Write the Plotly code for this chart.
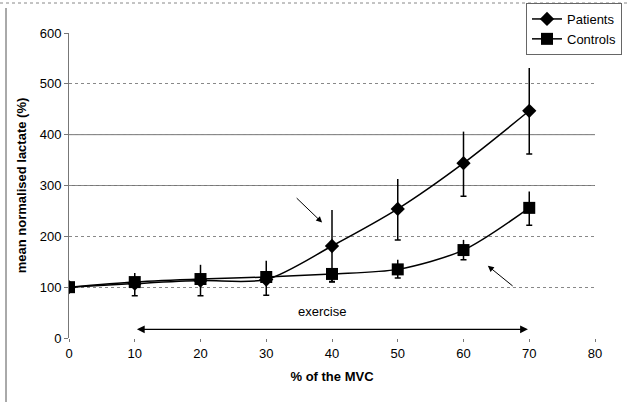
import plotly.graph_objects as go

# ---- data ----
mvc = [0, 10, 20, 30, 40, 50, 60, 70]
patients = [100, 107, 113, 115, 181, 254, 344, 447]
patients_up = [0, 0, 0, 0, 71, 59, 62, 84]
patients_down = [0, 0, 0, 0, 71, 61, 65, 85]
controls = [100, 110, 116, 120, 126, 135, 173, 256]
controls_up = [0, 18, 28, 32, 0, 19, 20, 32]
controls_down = [0, 27, 33, 36, 15, 17, 19, 34]
x_ticks = [0, 10, 20, 30, 40, 50, 60, 70, 80]
y_ticks = [0, 100, 200, 300, 400, 500, 600]
solid_grid = [300, 400]

FONT = "Liberation Sans, Arial, sans-serif"
fig = go.Figure()

# error bars: upper without cap, lower with cap
for vals, up, down in [(patients, patients_up, patients_down), (controls, controls_up, controls_down)]:
    fig.add_trace(go.Scatter(x=mvc, y=vals, mode="markers", marker=dict(opacity=0, size=1),
                             showlegend=False, hoverinfo="skip",
                             error_y=dict(type="data", symmetric=False, array=up,
                                          arrayminus=[0] * len(up), width=0,
                                          color="black", thickness=1.5)))
    fig.add_trace(go.Scatter(x=mvc, y=vals, mode="markers", marker=dict(opacity=0, size=1),
                             showlegend=False, hoverinfo="skip",
                             error_y=dict(type="data", symmetric=False, array=[0] * len(down),
                                          arrayminus=down, width=3,
                                          color="black", thickness=1.5)))

fig.add_trace(go.Scatter(x=mvc, y=patients, name="Patients", mode="lines+markers",
                         line=dict(color="black", width=1.5, shape="spline", smoothing=0.8),
                         marker=dict(symbol="diamond", size=11, color="black")))
fig.add_trace(go.Scatter(x=mvc, y=controls, name="Controls", mode="lines+markers",
                         line=dict(color="black", width=1.5, shape="spline", smoothing=0.8),
                         marker=dict(symbol="square", size=12, color="black")))

shapes = []
for g in solid_grid:
    shapes.append(dict(type="line", xref="x", yref="y", x0=0, x1=80, y0=g, y1=g,
                       line=dict(color="#777777", width=1), layer="below"))
# outer frame pieces
shapes.append(dict(type="line", xref="paper", yref="paper", x0=-63 / 526, x1=-63 / 526,
                   y0=-64 / 305, y1=(338 - 8) / 305, line=dict(color="#555555", width=1)))
shapes.append(dict(type="line", xref="paper", yref="paper", x0=-69 / 526, x1=561 / 526,
                   y0=(338 - 3) / 305, y1=(338 - 3) / 305,
                   line=dict(color="#888888", width=1, dash="dot")))

annotations = [
    dict(x=38.5, y=227, ax=34.4, ay=278, xref="x", yref="y", axref="x", ayref="y",
         showarrow=True, arrowhead=2, arrowsize=1.2, arrowwidth=1, arrowcolor="black", text=""),
    dict(x=63.7, y=142, ax=67.7, ay=100, xref="x", yref="y", axref="x", ayref="y",
         showarrow=True, arrowhead=2, arrowsize=1.2, arrowwidth=1, arrowcolor="black", text=""),
    dict(x=69.8, y=17, ax=10.1, ay=17, xref="x", yref="y", axref="x", ayref="y",
         showarrow=True, arrowhead=2, startarrowhead=2, arrowside="end+start",
         arrowsize=1.3, startarrowsize=1.3, arrowwidth=1.2, arrowcolor="black", text=""),
    dict(x=38.5, y=53, xref="x", yref="y", text="exercise", showarrow=False,
         font=dict(family=FONT, size=13, color="black")),
]

fig.update_layout(
    width=630, height=402,
    margin=dict(l=69, r=35, t=33, b=64, autoexpand=False),
    paper_bgcolor="white", plot_bgcolor="white",
    font=dict(family=FONT, size=13, color="black"),
    shapes=shapes, annotations=annotations,
    legend=dict(x=(526 - 69) / 526, y=(338 - 3) / 305, xanchor="left", yanchor="top",
                bgcolor="white", bordercolor="#666666", borderwidth=1,
                font=dict(family=FONT, size=13), tracegroupgap=2,
                itemwidth=30),
    xaxis=dict(range=[0, 80], tickvals=x_ticks, showgrid=False, zeroline=False,
               showline=False, ticks="outside", ticklen=3, tickcolor="#777777",
               automargin=False,
               title=dict(text="<b>% of the MVC</b>", font=dict(size=13), standoff=12),
               fixedrange=True),
    yaxis=dict(range=[0, 600], tickvals=y_ticks, showgrid=True, gridcolor="#888888",
               griddash="dot", gridwidth=1, zeroline=False, showline=True,
               linecolor="#777777", linewidth=1, ticks="outside", ticklen=4,
               tickcolor="#777777", automargin=False,
               title=dict(text="<b>mean normalised lactate (%)</b>", font=dict(size=13),
                          standoff=10),
               fixedrange=True),
)

fig.write_html("out.html", config={"displayModeBar": False},
               post_script="document.body.style.margin='0';document.body.style.overflow='hidden';")
